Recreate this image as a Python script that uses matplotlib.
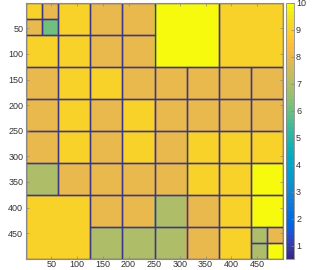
import matplotlib
matplotlib.use("Agg")
import matplotlib.pyplot as plt
import numpy as np
from matplotlib.colors import ListedColormap
from matplotlib.patches import Rectangle

# ---- data: hierarchical block structure (matrix index units, 0..500) ----
N = 500
block_x0 = [0, 31.25, 0, 31.25, 62.5, 0, 62.5,
            125, 187.5, 125, 187.5, 250, 375,
            # row band 2
            0, 62.5, 125, 187.5, 250, 312.5, 375, 437.5,
            # row band 3
            0, 62.5, 125, 187.5, 250, 312.5, 375, 437.5,
            # row band 4
            0, 62.5, 125, 187.5, 250, 312.5, 375, 437.5,
            # row band 5
            0, 62.5, 125, 187.5, 250, 312.5, 375, 437.5,
            # row band 6
            0, 125, 187.5, 250, 312.5, 375, 437.5,
            # row band 7
            125, 187.5, 250, 312.5, 375, 437.5, 468.75, 437.5, 468.75]
block_y0 = [0, 0, 31.25, 31.25, 0, 62.5, 62.5,
            0, 0, 62.5, 62.5, 0, 0,
            125, 125, 125, 125, 125, 125, 125, 125,
            187.5, 187.5, 187.5, 187.5, 187.5, 187.5, 187.5, 187.5,
            250, 250, 250, 250, 250, 250, 250, 250,
            312.5, 312.5, 312.5, 312.5, 312.5, 312.5, 312.5, 312.5,
            375, 375, 375, 375, 375, 375, 375,
            437.5, 437.5, 437.5, 437.5, 437.5, 437.5, 437.5, 468.75, 468.75]
block_size = [31.25, 31.25, 31.25, 31.25, 62.5, 62.5, 62.5,
              62.5, 62.5, 62.5, 62.5, 125, 125,
              62.5, 62.5, 62.5, 62.5, 62.5, 62.5, 62.5, 62.5,
              62.5, 62.5, 62.5, 62.5, 62.5, 62.5, 62.5, 62.5,
              62.5, 62.5, 62.5, 62.5, 62.5, 62.5, 62.5, 62.5,
              62.5, 62.5, 62.5, 62.5, 62.5, 62.5, 62.5, 62.5,
              125, 62.5, 62.5, 62.5, 62.5, 62.5, 62.5,
              62.5, 62.5, 62.5, 62.5, 62.5, 31.25, 31.25, 31.25, 31.25]
block_rank = [9, 8, 8, 6, 9, 9, 9,
              8, 8, 8, 8, 10, 9,
              8, 9, 9, 8, 8, 8, 8, 8,
              8, 9, 8, 9, 8, 8, 8, 8,
              8, 9, 8, 9, 8, 9, 9, 9,
              7, 8, 8, 8, 8, 9, 9, 10,
              9, 8, 8, 7, 8, 9, 10,
              7, 7, 7, 8, 9, 7, 8, 7, 10]

tick_vals = [50, 100, 150, 200, 250, 300, 350, 400, 450]
cbar_ticks = [1, 2, 3, 4, 5, 6, 7, 8, 9, 10]
clim = (0.5, 10)

parula_data = [
[0.2081,0.1663,0.5292],[0.2116,0.1898,0.5777],[0.2123,0.2138,0.6270],[0.2081,0.2386,0.6771],
[0.1959,0.2645,0.7279],[0.1707,0.2919,0.7792],[0.1253,0.3242,0.8303],[0.0591,0.3598,0.8683],
[0.0117,0.3875,0.8820],[0.0060,0.4086,0.8828],[0.0165,0.4266,0.8786],[0.0329,0.4430,0.8720],
[0.0498,0.4586,0.8641],[0.0629,0.4737,0.8554],[0.0723,0.4887,0.8467],[0.0779,0.5040,0.8384],
[0.0793,0.5200,0.8312],[0.0749,0.5375,0.8263],[0.0641,0.5570,0.8240],[0.0488,0.5772,0.8228],
[0.0343,0.5966,0.8199],[0.0265,0.6137,0.8135],[0.0239,0.6287,0.8038],[0.0231,0.6418,0.7913],
[0.0228,0.6535,0.7768],[0.0267,0.6642,0.7607],[0.0384,0.6743,0.7436],[0.0590,0.6838,0.7254],
[0.0843,0.6928,0.7062],[0.1133,0.7015,0.6859],[0.1453,0.7098,0.6646],[0.1801,0.7177,0.6424],
[0.2178,0.7250,0.6193],[0.2586,0.7317,0.5954],[0.3022,0.7376,0.5712],[0.3482,0.7424,0.5473],
[0.3953,0.7459,0.5244],[0.4420,0.7481,0.5033],[0.4871,0.7491,0.4840],[0.5300,0.7491,0.4661],
[0.5709,0.7485,0.4494],[0.6099,0.7473,0.4337],[0.6473,0.7456,0.4188],[0.6834,0.7435,0.4044],
[0.7184,0.7411,0.3905],[0.7525,0.7384,0.3768],[0.7858,0.7356,0.3633],[0.8185,0.7327,0.3498],
[0.8507,0.7299,0.3360],[0.8824,0.7274,0.3217],[0.9139,0.7258,0.3063],[0.9450,0.7261,0.2886],
[0.9739,0.7314,0.2666],[0.9938,0.7455,0.2403],[0.9990,0.7653,0.2164],[0.9955,0.7861,0.1967],
[0.9880,0.8066,0.1794],[0.9789,0.8271,0.1633],[0.9697,0.8481,0.1475],[0.9626,0.8705,0.1309],
[0.9589,0.8949,0.1132],[0.9598,0.9218,0.0948],[0.9661,0.9514,0.0755],[0.9763,0.9831,0.0538]]
parula = ListedColormap(parula_data, name="parula")

# ---- build matrix from blocks ----
M = np.zeros((N, N))
for x0, y0, s, r in zip(block_x0, block_y0, block_size, block_rank):
    c0, c1 = int(round(x0)), int(round(x0 + s))
    r0, r1 = int(round(y0)), int(round(y0 + s))
    M[r0:r1, c0:c1] = r

plt.rcParams['font.family'] = ['Liberation Sans', 'DejaVu Sans']
fig = plt.figure(figsize=(3.14, 2.70), dpi=100)
ax = fig.add_axes([26/314, 11/270, 257/314, 256/270])
im = ax.imshow(M, cmap=parula, vmin=clim[0], vmax=clim[1],
               extent=(0.5, N + 0.5, N + 0.5, 0.5), interpolation='nearest', aspect='auto')

line_col = '#3b3688'
for x0, y0, s in zip(block_x0, block_y0, block_size):
    ax.add_patch(Rectangle((x0 + 0.5, y0 + 0.5), s, s, fill=False,
                           edgecolor=line_col, linewidth=1.0, alpha=0.9))

ax.set_xlim(0.5, N + 0.5)
ax.set_ylim(N + 0.5, 0.5)
ax.set_xticks(tick_vals)
ax.set_yticks(tick_vals)
ax.tick_params(direction='in', length=2.5, width=0.5, colors='#888888',
               labelsize=6.5, labelcolor='#333333', top=True, right=True,
               labeltop=False, labelright=False, pad=2)
ax.tick_params(axis='x', pad=0.8)
for sp in ax.spines.values():
    sp.set_color('#8a8a8a')
    sp.set_linewidth(0.8)

cax = fig.add_axes([286/314, 11/270, 8/314, 256/270])
cb = fig.colorbar(im, cax=cax, ticks=cbar_ticks)
cb.ax.tick_params(direction='in', length=2, width=0.5, colors='#888888',
                  labelsize=6.5, labelcolor='#333333', pad=1.5)
cb.outline.set_edgecolor('#8a8a8a')
cb.outline.set_linewidth(0.6)

fig.savefig('out.png', dpi=100)
